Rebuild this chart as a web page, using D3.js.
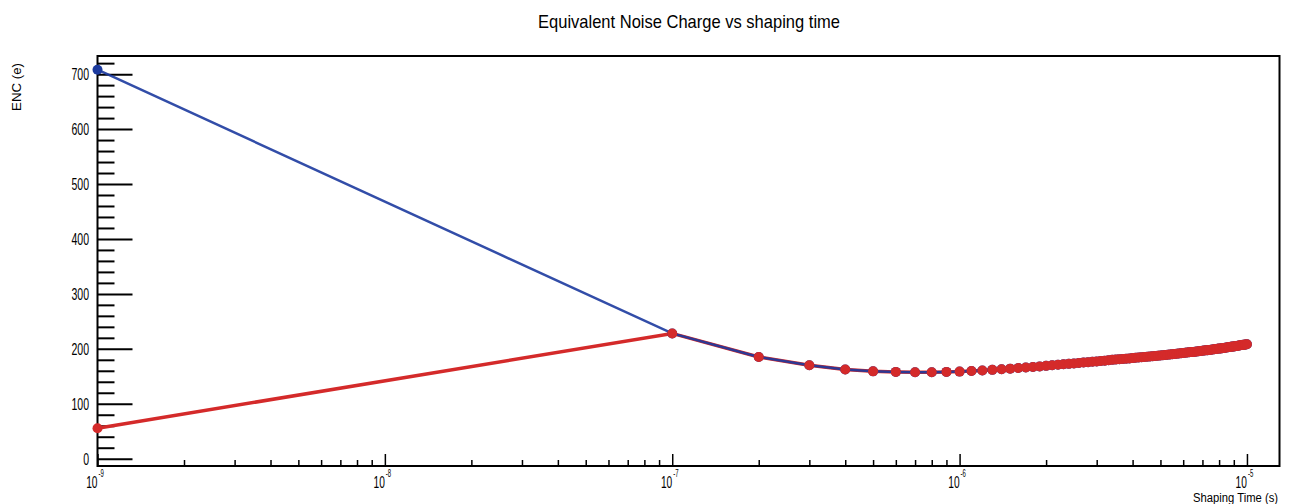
<!DOCTYPE html>
<html>
<head>
<meta charset="utf-8">
<script src="https://cdn.jsdelivr.net/npm/d3@7/dist/d3.min.js"></script>
<style>
  body { margin: 0; background: #fff; }
  text { font-family: "Liberation Sans", Arial, sans-serif; fill: #000; }
</style>
</head>
<body>
<div id="chart"></div>
<script>
// Shaping times in microseconds (first point is 1 ns)
const shapingTimeUs = [
  0.001,
  0.1, 0.2, 0.3, 0.4, 0.5, 0.6, 0.7, 0.8, 0.9, 1.0,
  1.1, 1.2, 1.3, 1.4, 1.5, 1.6, 1.7, 1.8, 1.9, 2.0,
  2.1, 2.2, 2.3, 2.4, 2.5, 2.6, 2.7, 2.8, 2.9, 3.0,
  3.1, 3.2, 3.3, 3.4, 3.5, 3.6, 3.7, 3.8, 3.9, 4.0,
  4.1, 4.2, 4.3, 4.4, 4.5, 4.6, 4.7, 4.8, 4.9, 5.0,
  5.1, 5.2, 5.3, 5.4, 5.5, 5.6, 5.7, 5.8, 5.9, 6.0,
  6.1, 6.2, 6.3, 6.4, 6.5, 6.6, 6.7, 6.8, 6.9, 7.0,
  7.1, 7.2, 7.3, 7.4, 7.5, 7.6, 7.7, 7.8, 7.9, 8.0,
  8.1, 8.2, 8.3, 8.4, 8.5, 8.6, 8.7, 8.8, 8.9, 9.0,
  9.1, 9.2, 9.3, 9.4, 9.5, 9.6, 9.7, 9.8, 9.9, 10.0
];

// ENC (electrons), red graph
const redEnc = [
  55.5,
  228, 185, 170, 162.5, 159, 158, 157.5, 157.5, 158, 158.5,
  159.5, 160.5, 161.7, 162.8, 163.9, 165, 166, 167, 168, 169,
  170, 171, 171.8, 172.6, 173.4, 174.2, 175, 175.7, 176.4, 177.1,
  177.8, 178.5, 179.2, 179.9, 180.6, 181.1, 181.6, 182.1, 182.6, 183.1,
  183.6, 184.1, 184.6, 185.1, 185.6, 186.1, 186.6, 187.1, 187.5, 188,
  188.5, 188.9, 189.4, 189.8, 190.3, 190.7, 191.2, 191.6, 192, 192.4,
  192.8, 193.2, 193.6, 194, 194.4, 194.8, 195.2, 195.6, 196, 196.4,
  196.8, 197.2, 197.6, 198, 198.4, 198.8, 199.2, 199.6, 200, 200.4,
  200.8, 201.2, 201.6, 202, 202.4, 202.8, 203.2, 203.6, 204, 204.4,
  204.8, 205.2, 205.6, 206, 206.4, 206.8, 207.2, 207.6, 208, 208.4
];

// blue graph: starts high at 1 ns, then lies under the red one
const blueEnc = [708, ...redEnc.slice(1)];

const yTickValues = [0, 100, 200, 300, 400, 500, 600, 700];
const xDecadeExponents = [-9, -8, -7, -6, -5];

const chartTitle = "Equivalent Noise Charge vs shaping time";
const xTitle = "Shaping Time (s)";
const yTitle = "ENC (e)";

const width = 1291, height = 504;
const frame = { left: 97.5, right: 1279.5, top: 56, bottom: 466 };

const svg = d3.select("#chart").append("svg")
  .attr("width", width)
  .attr("height", height);

const x = d3.scaleLog()
  .domain([1e-9, 1.298e-5])
  .range([frame.left, frame.right]);

const y = d3.scaleLinear()
  .domain([-13.3, 733])
  .range([frame.bottom, frame.top]);

// frame
svg.append("rect")
  .attr("x", frame.left).attr("y", frame.top)
  .attr("width", frame.right - frame.left)
  .attr("height", frame.bottom - frame.top)
  .attr("fill", "none").attr("stroke", "#000").attr("stroke-width", 2);

// y axis ticks (drawn inward, ROOT style)
const yMinor = d3.range(0, 733, 20).filter(v => v % 100 !== 0);
svg.append("g").attr("transform", `translate(${frame.left},0)`)
  .call(d3.axisRight(y).tickValues(yMinor).tickSize(17).tickFormat(""))
  .call(g => g.select(".domain").remove())
  .selectAll("line").attr("stroke-width", 2);
svg.append("g").attr("transform", `translate(${frame.left},0)`)
  .call(d3.axisRight(y).tickValues(yTickValues).tickSize(35).tickFormat(""))
  .call(g => g.select(".domain").remove())
  .selectAll("line").attr("stroke-width", 2);

// y tick labels
svg.append("g").selectAll("text")
  .data(yTickValues)
  .join("text")
  .attr("transform", d => `translate(89,${y(d) + 6}) scale(0.62,1)`)
  .attr("text-anchor", "end")
  .attr("font-size", 17)
  .text(d => d);

// x axis ticks
const xMajor = xDecadeExponents.map(e => Math.pow(10, e));
const xMinor = [];
xDecadeExponents.forEach(e => {
  for (let k = 2; k <= 9; k++) {
    const v = k * Math.pow(10, e);
    if (v <= x.domain()[1]) xMinor.push(v);
  }
});
svg.append("g").attr("transform", `translate(0,${frame.bottom})`)
  .call(d3.axisTop(x).tickValues(xMinor).tickSize(6).tickFormat(""))
  .call(g => g.select(".domain").remove())
  .selectAll("line").attr("stroke-width", 1.5);
svg.append("g").attr("transform", `translate(0,${frame.bottom})`)
  .call(d3.axisTop(x).tickValues(xMajor).tickSize(12).tickFormat(""))
  .call(g => g.select(".domain").remove())
  .selectAll("line").attr("stroke-width", 1.5);

// x tick labels: 10^e
const xLab = svg.append("g").selectAll("g")
  .data(xDecadeExponents)
  .join("g")
  .attr("transform", e => `translate(${x(Math.pow(10, e))},488)`);
xLab.append("text")
  .attr("transform", "scale(0.6,1)")
  .attr("text-anchor", "end")
  .attr("font-size", 17)
  .text("10");
xLab.append("text")
  .attr("transform", "translate(1,-11) scale(0.6,1)")
  .attr("text-anchor", "start")
  .attr("font-size", 10)
  .text(e => e);

// titles
svg.append("text")
  .attr("x", 689).attr("y", 28)
  .attr("text-anchor", "middle")
  .attr("font-size", 19)
  .attr("textLength", 302).attr("lengthAdjust", "spacingAndGlyphs")
  .text(chartTitle);

svg.append("text")
  .attr("x", 1278).attr("y", 502)
  .attr("text-anchor", "end")
  .attr("font-size", 12.5)
  .attr("textLength", 85).attr("lengthAdjust", "spacingAndGlyphs")
  .text(xTitle);

svg.append("text")
  .attr("transform", "translate(21,87) rotate(-90)")
  .attr("text-anchor", "middle")
  .attr("font-size", 12)
  .attr("textLength", 48).attr("lengthAdjust", "spacingAndGlyphs")
  .text(yTitle);

// graphs
const blueColor = "#1c3a9e";
const redColor = "#d42a2a";

const line = d3.line()
  .x((d, i) => x(shapingTimeUs[i] * 1e-6))
  .y(d => y(d));

svg.append("path")
  .datum(redEnc)
  .attr("fill", "none")
  .attr("stroke", redColor)
  .attr("stroke-width", 3.5)
  .attr("d", line);

svg.append("path")
  .datum(blueEnc)
  .attr("fill", "none")
  .attr("stroke", blueColor)
  .attr("stroke-width", 2.5)
  .attr("stroke-opacity", 0.9)
  .attr("d", line);

svg.append("g").selectAll("circle")
  .data(blueEnc)
  .join("circle")
  .attr("cx", (d, i) => x(shapingTimeUs[i] * 1e-6))
  .attr("cy", d => y(d))
  .attr("r", 5)
  .attr("fill", blueColor);

svg.append("g").selectAll("circle")
  .data(redEnc)
  .join("circle")
  .attr("cx", (d, i) => x(shapingTimeUs[i] * 1e-6))
  .attr("cy", d => y(d))
  .attr("r", 5)
  .attr("fill", redColor);
</script>
</body>
</html>
